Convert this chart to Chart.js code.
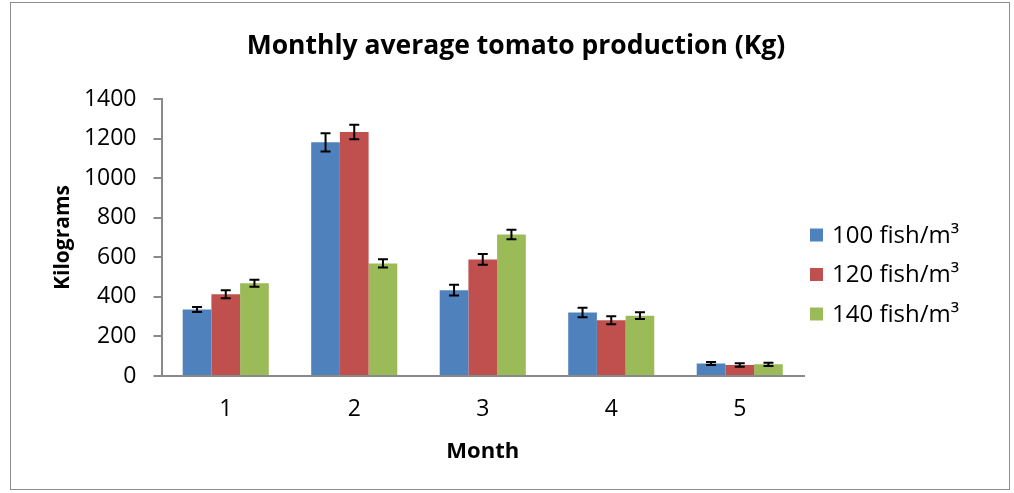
<!DOCTYPE html>
<html>
<head>
<meta charset="utf-8">
<script src="https://cdn.jsdelivr.net/npm/chart.js@4"></script>
<style>
  html, body { margin: 0; padding: 0; background: #fff; }
  #wrap { position: absolute; left: 0; top: 0; width: 1014px; height: 493px; }
  #frame { position: absolute; left: 10px; top: 2px; width: 1000px; height: 488px; border: 1px solid #8c8c8c; box-sizing: border-box; }
  canvas { position: absolute; left: 0; top: 0; }
</style>
</head>
<body>
<div id="wrap">
  <div id="frame"></div>
  <canvas id="c" width="1014" height="493"></canvas>
</div>
<script>
const months = ['1', '2', '3', '4', '5'];
const seriesNames = ['100 fish/m³', '120 fish/m³', '140 fish/m³'];
const fish100 = [336, 1181, 434, 321, 63];
const fish120 = [413, 1233, 589, 282, 56];
const fish140 = [469, 569, 715, 305, 59];
const err100 = [13, 46, 27, 24, 8];
const err120 = [20, 37, 27, 20, 9];
const err140 = [18, 21, 24, 17, 8];
const yTicks = [0, 200, 400, 600, 800, 1000, 1200, 1400];

const colors = ['#4F81BD', '#C0504D', '#9BBB59'];
const values = [fish100, fish120, fish140];
const errors = [err100, err120, err140];

const FONT = '"Open Sans", sans-serif';
const AXIS_GRAY = '#898989';

const errorBars = {
  id: 'errorBars',
  afterDatasetsDraw(chart) {
    const ctx = chart.ctx;
    const y = chart.scales.y;
    ctx.save();
    ctx.strokeStyle = '#000';
    ctx.lineWidth = 2;
    chart.data.datasets.forEach((ds, di) => {
      const meta = chart.getDatasetMeta(di);
      meta.data.forEach((bar, i) => {
        const v = ds.data[i], e = ds.errors[i];
        const top = y.getPixelForValue(v + e);
        const bot = y.getPixelForValue(v - e);
        const x = bar.x;
        const cap = 5;
        ctx.beginPath();
        ctx.moveTo(x, top); ctx.lineTo(x, bot);
        ctx.moveTo(x - cap, top); ctx.lineTo(x + cap, top);
        ctx.moveTo(x - cap, bot); ctx.lineTo(x + cap, bot);
        ctx.stroke();
      });
    });
    ctx.restore();
  }
};

// Legend drawn in the space reserved on the right of the plot area
const sideLegend = {
  id: 'sideLegend',
  afterDraw(chart) {
    const ctx = chart.ctx;
    const area = chart.chartArea;
    const rowGap = 39.5;
    ctx.save();
    ctx.font = '24px ' + FONT;
    ctx.textBaseline = 'middle';
    ctx.textAlign = 'left';
    chart.data.datasets.forEach((ds, i) => {
      const cy = area.top + 136 + i * rowGap;
      const bx = area.right + 6;
      ctx.fillStyle = ds.backgroundColor;
      ctx.fillRect(bx, cy - 6.5, 13, 13);
      ctx.fillStyle = '#000';
      ctx.fillText(ds.label, bx + 22, cy + 1);
    });
    ctx.restore();
  }
};

new Chart(document.getElementById('c'), {
  type: 'bar',
  data: {
    labels: months,
    datasets: seriesNames.map((n, i) => ({
      label: n,
      data: values[i],
      errors: errors[i],
      backgroundColor: colors[i],
      borderWidth: 0,
      barPercentage: 1.0,
      categoryPercentage: 0.67
    }))
  },
  options: {
    responsive: false,
    animation: false,
    devicePixelRatio: 1,
    layout: { padding: { left: 48, right: 30, top: 22, bottom: 20 } },
    plugins: {
      title: {
        display: true,
        text: 'Monthly average tomato production (Kg)',
        font: { family: FONT, size: 26.5, weight: 'bold' },
        color: '#000',
        padding: { top: 9, bottom: 36.2 }
      },
      legend: { display: false },
      tooltip: { enabled: false }
    },
    scales: {
      x: {
        grid: { display: false, drawTicks: false },
        border: { color: AXIS_GRAY, width: 2 },
        ticks: { color: '#000', font: { family: FONT, size: 23 }, padding: 20 },
        title: { display: true, text: 'Month', color: '#000', font: { family: FONT, size: 22, weight: 'bold' }, padding: { top: 4, bottom: 8 } },
        afterFit: (s) => { s.height = 97; }
      },
      y: {
        min: 0, max: 1400,
        afterBuildTicks: (s) => { s.ticks = yTicks.map(v => ({ value: v })); },
        grid: { display: true, drawOnChartArea: false, drawTicks: true, tickLength: 8, color: AXIS_GRAY, lineWidth: 2 },
        border: { color: AXIS_GRAY, width: 2 },
        ticks: { color: '#000', font: { family: FONT, size: 23 }, padding: 17, callback: (v) => String(v) },
        title: { display: true, text: 'Kilograms', color: '#000', font: { family: FONT, size: 21, weight: 'bold' }, padding: { top: 2, bottom: 4 } },
        afterFit: (s) => { s.width = 113.5; }
      },
      legendSpace: {
        type: 'linear',
        position: 'right',
        display: true,
        grid: { display: false, drawTicks: false },
        border: { display: false },
        ticks: { display: false },
        afterFit: (s) => { s.width = 180; }
      }
    }
  },
  plugins: [errorBars, sideLegend]
});
</script>
</body>
</html>
